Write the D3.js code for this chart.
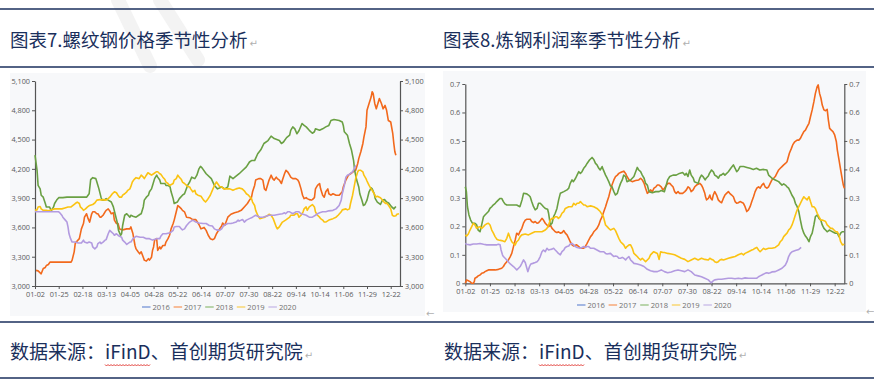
<!DOCTYPE html>
<html><head><meta charset="utf-8">
<script src="https://cdn.jsdelivr.net/npm/d3@7"></script>
<style>
html,body{margin:0;padding:0;background:#fff;}
svg{display:block;}
</style></head><body>
<svg id="c" width="874" height="386"></svg>
<script>
// ---------------- DATA ----------------
const years = ["2016","2017","2018","2019","2020"];
const skipDays = ["02-05","05-01","10-01","10-02","10-03","10-04","10-05","10-06","10-07"];
const monthDays = [31,28,31,30,31,30,31,31,30,31,30,31];
const tickLabels = ["01-02","01-25","02-18","03-13","04-05","04-28","05-22","06-14","07-07","07-30","08-22","09-14","10-14","11-06","11-29","12-22"];
const rebarTicks = [3000,3300,3600,3900,4200,4500,4800,5100];
const marginTicks = [0,0.1,0.2,0.3,0.4,0.5,0.6,0.7];

// series values as [category index, value]
const rebar2016 = [];
const rebar2017 = [[1,3160],[3,3155],[5,3135],[6,3125],[8,3180],[10,3190],[11,3210],[13,3220],[14.5,3245],[35,3245],[36,3265],[38,3350],[39,3435],[40,3450],[43,3485],[45,3585],[47,3640],[48,3705],[50,3740],[51.5,3690],[53,3655],[55,3740],[56,3760],[58,3760],[60,3740],[61,3740],[63,3705],[64,3705],[66,3725],[68,3760],[69,3775],[71,3790],[73,3760],[74,3740],[76,3750],[77,3675],[79,3640],[80.5,3640],[82,3585],[85,3575],[89,3585],[92,3585],[93,3605],[95,3535],[97,3415],[98,3380],[100,3350],[101.5,3330],[103,3350],[105,3295],[106,3265],[108,3255],[110,3280],[111,3265],[113,3295],[114,3365],[115,3400],[116,3470],[118,3485],[119,3365],[121,3400],[122,3380],[124,3415],[126,3415],[127,3450],[129,3485],[130.5,3520],[132,3585],[134,3640],[135,3675],[137,3760],[138.5,3825],[140,3810],[142,3790],[143,3775],[145,3760],[147,3705],[150,3700],[153,3680],[156,3680],[159,3630],[161,3585],[164,3600],[166,3570],[168,3520],[170,3485],[172.5,3475],[174,3485],[176,3535],[178,3570],[179,3585],[181,3615],[182,3645],[184,3620],[187,3705],[190,3735],[193.5,3750],[197,3760],[200,3775],[203,3810],[206,3845],[208,3880],[210,3910],[211,3965],[213,4030],[214,4085],[217,4100],[219,4100],[221,4085],[222.5,3995],[224,3980],[226,4050],[227,4085],[229,4135],[230.5,4100],[232,4085],[234,4115],[235,4100],[237,4085],[239,4050],[240,4085],[242,4150],[243.4,4185],[245,4170],[247,4135],[248,4115],[250,4100],[253,4100],[255,4085],[256,4065],[258,3995],[259.5,3930],[261,3895],[263,3905],[264,3895],[266,3885],[268,3880],[269,3885],[271,3905],[272,3995],[274,4030],[276,4050],[277,3995],[279,3930],[280.5,3910],[282,3965],[284,3995],[285,3945],[287,3930],[289,3945],[292,3930],[295,3930],[298,3965],[299,4015],[301.5,4085],[304,4135],[306,4150],[308.5,4170],[311,4185],[313,4255],[314,4305],[316,4375],[318,4460],[319,4525],[321,4630],[322,4800],[324,4870],[326,4935],[327,4990],[328,4970],[329.5,4870],[331,4815],[333,4885],[334,4920],[336,4870],[337.6,4815],[339.5,4850],[341,4800],[342.7,4695],[345,4680],[347,4560],[348,4460],[349,4375],[350,4340]];
const rebar2018 = [[0,4340],[2,4185],[3,4030],[5,3995],[6,3930],[8,3910],[10,3845],[11,3810],[14,3810],[15,3790],[16,3775],[18,3810],[19,3845],[21,3880],[23,3905],[27,3905],[31,3910],[40,3910],[50,3910],[52.5,3945],[54,4090],[56,4110],[59,4100],[60,4065],[62,3995],[64,3910],[65,3880],[67,3880],[69,3895],[71,3880],[74,3860],[76,3810],[78,3725],[80,3640],[81,3570],[83,3520],[84,3535],[85,3620],[87,3725],[89,3740],[92,3705],[93,3725],[95,3715],[98,3705],[102,3735],[103,3740],[105,3810],[106,3880],[108,3910],[110,3930],[111,3965],[113,3995],[114,4030],[116,4100],[118,4135],[119,4115],[121,4085],[122,4050],[126,4050],[127,4030],[129,4030],[131,4015],[132,3965],[134,3895],[135,3845],[138,3860],[140,3895],[143,3930],[145,3945],[148,4030],[150,4065],[152,4115],[155,4100],[157,4135],[159,4200],[160.5,4225],[162,4210],[166,4150],[171,4100],[174,4030],[177,3995],[181,4015],[184,3995],[187,4015],[189,4125],[192,4100],[195,4125],[198,4150],[200,4170],[205,4220],[208,4270],[210,4285],[213,4285],[216,4355],[219,4395],[222,4460],[226,4490],[229,4535],[232,4510],[237,4490],[239,4460],[241,4475],[244,4520],[247,4545],[248,4595],[250,4630],[252,4610],[254,4560],[256,4590],[259,4665],[261,4645],[263,4630],[266,4595],[269,4565],[271,4580],[272,4610],[276,4595],[279,4610],[282,4630],[285,4645],[287,4695],[290,4705],[295,4695],[298,4680],[299,4645],[300,4580],[303,4545],[305,4460],[307,4390],[309,4285],[310,4185],[312,4085],[314,4015],[315,3945],[317,3880],[318.5,3825],[320,3835],[322,3880],[324,3965],[326,4005],[327,3995],[329,3945],[330,3895],[332,3860],[335,3835],[337,3880],[339,3885],[341,3860],[343,3850],[346,3810],[348,3790],[350,3815]];
const rebar2019 = [[0,3775],[2,3780],[3,3810],[5,3815],[6,3790],[8,3775],[11,3775],[13,3770],[16,3780],[19,3790],[26,3790],[29,3800],[32,3810],[35,3810],[39,3845],[41,3860],[43,3845],[44,3810],[46,3790],[47,3775],[49,3790],[51,3810],[53,3825],[56,3835],[58,3850],[60,3880],[63,3885],[64,3880],[66,3885],[69,3880],[71,3895],[72.5,3910],[75,3945],[77,3965],[79,3955],[80.5,3930],[82,3910],[84,3910],[85,3930],[87,3945],[89,3965],[90,3980],[92,3995],[93,4020],[94.4,4065],[96,4090],[98,4110],[101,4100],[103,4135],[105,4115],[106,4100],[108,4135],[109.5,4160],[111,4150],[113,4135],[115,4150],[117.6,4170],[119,4170],[121,4150],[122,4145],[124,4115],[126,4090],[127,4065],[129,4050],[130.5,4030],[134,4050],[135,4085],[137,4100],[138.5,4135],[140,4115],[142,4090],[143,4065],[145,4050],[147,4030],[148,4020],[150,4015],[151,3995],[153,3965],[155,3980],[156,3945],[158,3930],[161,3920],[163.5,3880],[165.4,3860],[167,3880],[170,3930],[172,3980],[174,4030],[176,4065],[177,4050],[179,4020],[181,4015],[183,3995],[189,3995],[192,3980],[195,3995],[198,4005],[201,3995],[203,3975],[205,3945],[207,3930],[210,3895],[211,3860],[213,3825],[214,3775],[216,3725],[218,3690],[221,3700],[223,3705],[226,3725],[227,3735],[229,3725],[231,3690],[234,3605],[235,3585],[237,3605],[239,3640],[240,3655],[243,3675],[245,3690],[247,3705],[248,3725],[251,3725],[253,3740],[254.7,3740],[256,3705],[258,3725],[260,3760],[261,3790],[263,3810],[264,3775],[266,3810],[268,3825],[269,3835],[271,3810],[272,3760],[274,3725],[276,3705],[277,3690],[279,3675],[280.5,3655],[282,3655],[285,3675],[289,3690],[292,3705],[294,3725],[297,3760],[298,3780],[301.5,3790],[303,3780],[305,3790],[306,3845],[308,3930],[309.5,4015],[311,4100],[313,4170],[314,4185],[316,4185],[318,4170],[319,4135],[321,4100],[322,4075],[324,4030],[326,3995],[327,3980],[329,3945],[330.5,3910],[332,3920],[334,3910],[335,3905],[337,3880],[338.5,3860],[340,3845],[341,3850],[343,3825],[345,3790],[346.6,3725],[348,3715],[350,3720],[351,3735],[353,3740]];
const rebar2020 = [[0,3760],[23,3760],[24,3750],[26,3725],[27,3705],[29,3680],[31,3655],[32,3605],[33,3535],[34.5,3485],[36,3450],[39,3450],[42,3440],[45,3440],[47,3470],[48,3450],[50.6,3440],[52.5,3450],[55,3440],[56,3400],[58,3380],[60,3400],[61,3435],[63,3450],[64,3435],[66,3450],[68,3470],[69,3475],[71,3535],[72.5,3570],[74,3555],[76,3535],[77,3520],[79,3535],[80.5,3520],[82,3510],[84,3500],[85,3470],[87,3450],[89,3425],[90,3435],[92,3450],[93,3450],[95,3485],[97,3500],[98,3510],[102,3500],[105,3500],[108,3485],[111,3485],[114,3470],[118,3485],[121,3485],[122,3510],[124,3535],[127,3535],[131,3545],[134,3570],[135,3605],[137,3610],[140,3610],[142,3585],[143,3575],[145,3585],[147,3620],[150,3655],[153,3675],[156,3655],[159,3645],[163,3640],[166,3640],[169,3620],[172,3615],[174,3585],[176,3575],[179,3570],[181,3585],[183,3620],[187,3640],[190,3640],[192,3645],[195,3655],[197,3675],[198,3665],[200,3675],[201.5,3680],[203,3655],[205,3675],[208,3690],[211,3705],[214,3725],[218,3705],[221,3705],[224,3715],[227,3725],[232,3725],[237,3735],[240,3740],[242,3750],[243,3740],[245,3760],[247,3760],[250,3740],[253,3760],[256,3760],[258,3740],[260,3735],[263,3725],[266,3705],[269,3705],[272,3725],[274,3740],[276,3750],[279,3760],[282,3760],[285,3770],[289,3775],[292,3790],[295,3825],[297,3880],[298,3945],[300,4030],[301.5,4115],[303,4135],[305,4145],[308,4170],[309.5,4200],[311,4235]];

const margin2016 = [];
const margin2017 = [[0,0],[1.25,0.012],[2.8,0.009],[4.4,0.006],[6,0],[7.5,0],[8.4,0.006],[9,0.018],[10.6,0.021],[12,0.026],[13.75,0.029],[15.3,0.035],[17,0.037],[18.4,0.041],[20,0.044],[21.6,0.047],[28,0.047],[31,0.049],[34,0.053],[35.6,0.059],[37,0.068],[38.75,0.076],[40.3,0.082],[42,0.094],[43.4,0.105],[45,0.129],[46.6,0.152],[48,0.176],[49.7,0.170],[51,0.181],[52.8,0.193],[54.4,0.211],[56,0.222],[57.5,0.225],[60.6,0.225],[62,0.217],[63.75,0.213],[65.3,0.217],[67,0.211],[68.4,0.213],[70,0.220],[71.6,0.228],[73,0.222],[74.7,0.211],[76.25,0.205],[77.8,0.199],[79.4,0.205],[81,0.193],[82.5,0.187],[84,0.181],[85.6,0.178],[87,0.181],[88.75,0.176],[90.3,0.178],[92,0.185],[93.4,0.176],[95,0.170],[96.6,0.158],[98,0.146],[99.7,0.135],[101.25,0.131],[104,0.135],[106,0.129],[107.5,0.123],[110.6,0.123],[112,0.129],[113.75,0.140],[115.3,0.152],[117,0.164],[118.4,0.170],[120,0.181],[121.6,0.187],[123,0.193],[124.7,0.205],[126.25,0.222],[127.8,0.234],[129.4,0.252],[131,0.269],[132.5,0.287],[134,0.304],[135.6,0.328],[137,0.345],[138.75,0.363],[140.3,0.375],[142,0.380],[143.4,0.386],[145,0.389],[146.6,0.392],[148,0.394],[149.7,0.386],[151,0.375],[153,0.363],[155.9,0.357],[159,0.361],[162,0.363],[163.75,0.369],[165.3,0.363],[167,0.351],[168.4,0.334],[170,0.316],[171.6,0.322],[173,0.328],[174.7,0.322],[176.25,0.334],[178,0.339],[179.4,0.345],[181,0.345],[183,0.339],[184.6,0.328],[186,0.334],[188,0.345],[189.3,0.351],[191,0.351],[192.4,0.345],[194,0.339],[195.5,0.322],[197,0.316],[198.7,0.322],[200,0.316],[203,0.316],[205,0.322],[206.5,0.328],[208,0.339],[209.6,0.334],[211,0.322],[212.8,0.328],[214.3,0.339],[216,0.345],[219,0.351],[220.6,0.345],[222,0.334],[223.7,0.316],[224.4,0.304],[225.3,0.293],[227,0.298],[228.4,0.310],[229.4,0.298],[230.6,0.293],[231.6,0.310],[233,0.322],[234.7,0.310],[236.3,0.293],[237.8,0.287],[239.4,0.283],[241,0.298],[242.5,0.310],[244,0.316],[245.7,0.322],[247,0.316],[248.8,0.310],[250.4,0.304],[252,0.287],[253.5,0.281],[255,0.283],[256.6,0.287],[259.8,0.281],[261.3,0.269],[262.9,0.252],[264.5,0.258],[266,0.269],[267.6,0.287],[269.2,0.304],[270.7,0.322],[272.3,0.334],[273.9,0.339],[275.4,0.334],[277,0.345],[278.6,0.351],[280,0.339],[281.7,0.334],[283.3,0.339],[284.8,0.351],[286.4,0.363],[288,0.369],[289.5,0.375],[291,0.386],[292.7,0.398],[294.2,0.404],[295.8,0.410],[297.4,0.416],[299,0.421],[300.5,0.427],[301.4,0.439],[302.7,0.457],[304.6,0.474],[305.8,0.486],[307.7,0.497],[309.9,0.503],[311.5,0.503],[313,0.509],[314.6,0.521],[316.2,0.533],[317.7,0.538],[319.3,0.550],[321,0.562],[322.4,0.585],[324,0.609],[325.6,0.638],[327,0.667],[328.7,0.691],[329.6,0.697],[330.9,0.667],[332.2,0.650],[333.4,0.626],[335,0.609],[336.5,0.606],[338,0.611],[339.1,0.574],[340.3,0.544],[341.9,0.538],[343.4,0.533],[345,0.521],[346.6,0.497],[347.5,0.468],[349.1,0.433],[350.6,0.398],[352.2,0.363],[353.1,0.345],[354,0.334]];
const margin2018 = [[0,0.339],[1,0.322],[2,0.269],[3.4,0.240],[5,0.222],[6.6,0.211],[9,0.211],[10.6,0.205],[12,0.187],[13.75,0.181],[15.3,0.205],[17,0.234],[18.4,0.240],[20,0.246],[21.6,0.252],[23,0.263],[24.7,0.269],[26,0.275],[28,0.281],[29.4,0.287],[31,0.293],[32.5,0.298],[34,0.298],[35.6,0.287],[37,0.279],[38.75,0.275],[48,0.275],[51,0.269],[53,0.293],[54.4,0.316],[57.5,0.314],[59,0.310],[60.6,0.304],[62,0.287],[63.75,0.269],[65.3,0.258],[67,0.263],[68.4,0.281],[70,0.281],[71.6,0.275],[73,0.269],[74.7,0.263],[76.9,0.260],[77.8,0.246],[78.75,0.222],[79.4,0.205],[81,0.211],[82.5,0.234],[84,0.246],[85.6,0.263],[87.2,0.293],[88.75,0.316],[92,0.322],[95,0.328],[96.6,0.334],[98,0.351],[99.7,0.363],[101,0.357],[103,0.369],[104.4,0.380],[106,0.392],[107.5,0.386],[109,0.392],[110.6,0.404],[112,0.410],[113.75,0.421],[116,0.433],[118.4,0.442],[120,0.435],[121.6,0.421],[123,0.416],[124.7,0.404],[126,0.398],[127.8,0.410],[128.75,0.400],[131,0.380],[132.5,0.369],[134,0.357],[135.6,0.342],[137,0.339],[138.75,0.322],[140.3,0.310],[142,0.316],[143.4,0.334],[145,0.351],[146.6,0.363],[148,0.380],[149.7,0.375],[151,0.357],[154.4,0.363],[157.5,0.375],[160.6,0.407],[162,0.398],[163.75,0.392],[165.3,0.380],[167,0.369],[168.4,0.351],[170,0.345],[171.6,0.322],[174.7,0.318],[177.8,0.322],[181,0.322],[183,0.326],[186,0.322],[189,0.363],[191,0.375],[194,0.380],[197,0.380],[200,0.386],[203,0.389],[205,0.380],[206.5,0.386],[208,0.375],[209.6,0.398],[211,0.380],[213,0.369],[214,0.357],[217.5,0.351],[219,0.369],[220.6,0.380],[222,0.375],[224,0.363],[225,0.369],[227,0.377],[228,0.386],[230,0.398],[231.6,0.392],[233,0.380],[235,0.375],[236.3,0.369],[238,0.380],[239,0.380],[241,0.386],[242.5,0.380],[245.7,0.392],[248,0.404],[250.4,0.416],[252,0.404],[253.5,0.392],[255,0.398],[256.6,0.410],[260,0.410],[263,0.407],[266,0.404],[269,0.400],[272,0.404],[275,0.398],[278.6,0.400],[281.7,0.398],[283.3,0.380],[284.8,0.375],[286.4,0.369],[289.5,0.363],[292.7,0.357],[294.2,0.351],[295.8,0.345],[297.4,0.349],[299,0.345],[300.5,0.339],[302,0.334],[303.6,0.322],[305,0.310],[307,0.298],[308.3,0.281],[310,0.269],[311.5,0.252],[313,0.222],[314.6,0.193],[316.2,0.176],[317.7,0.166],[319.3,0.158],[321,0.146],[322.4,0.164],[324,0.176],[325.6,0.205],[327,0.234],[328.7,0.240],[330.3,0.228],[332,0.222],[333.4,0.205],[335,0.193],[336.5,0.187],[338,0.181],[340,0.187],[341,0.185],[343,0.181],[344.4,0.178],[346,0.176],[347.5,0.176],[349,0.164],[350.6,0.176],[352,0.181],[354,0.181]];
const margin2019 = [[0,0.170],[1.25,0.166],[2.8,0.173],[4.4,0.187],[6,0.199],[7.5,0.211],[9,0.205],[10.6,0.193],[12,0.197],[13.75,0.199],[15.3,0.193],[17,0.199],[18.4,0.205],[20,0.209],[21.6,0.211],[23.1,0.205],[24.7,0.187],[26.25,0.176],[27.8,0.164],[29.4,0.155],[31,0.152],[34,0.150],[37,0.146],[38.75,0.158],[40.3,0.176],[42,0.158],[43.4,0.146],[45,0.140],[46.6,0.135],[48,0.146],[49.7,0.152],[51.25,0.164],[52.8,0.170],[56,0.173],[59,0.170],[62,0.176],[65,0.181],[71.6,0.181],[74.7,0.187],[76.25,0.193],[77.8,0.205],[79.4,0.222],[81,0.228],[82.5,0.228],[84,0.234],[85.6,0.234],[87,0.228],[88.75,0.234],[90.3,0.246],[92,0.252],[93.4,0.263],[96.6,0.269],[99.7,0.269],[101.25,0.281],[103,0.275],[104.4,0.281],[106,0.281],[107.5,0.287],[109,0.281],[110.6,0.275],[112,0.275],[113.75,0.269],[117,0.272],[120,0.269],[123,0.263],[126,0.252],[129,0.234],[131,0.205],[132.5,0.199],[134,0.193],[135.6,0.187],[138.75,0.193],[140.3,0.185],[142,0.170],[143.4,0.158],[145,0.146],[146.6,0.140],[148,0.135],[149.7,0.123],[151,0.129],[153,0.135],[154.4,0.135],[156,0.123],[157.5,0.105],[159,0.100],[160.6,0.094],[162,0.088],[163.75,0.082],[165.3,0.088],[166.9,0.082],[168.4,0.076],[170,0.082],[171.6,0.088],[173,0.100],[176,0.111],[179.4,0.105],[181,0.084],[182.5,0.111],[184.6,0.108],[186,0.108],[189,0.105],[192.4,0.103],[195.5,0.100],[198.7,0.094],[201.8,0.088],[205,0.084],[208,0.076],[211,0.082],[214.3,0.088],[217.5,0.082],[220.6,0.088],[223.7,0.084],[227,0.082],[228.4,0.088],[230,0.084],[231.6,0.082],[233,0.076],[234.7,0.073],[236.3,0.076],[237.8,0.082],[239.4,0.084],[241,0.082],[242.5,0.084],[245.7,0.088],[248.8,0.091],[252,0.094],[255,0.100],[258,0.105],[259.8,0.100],[261.3,0.105],[264.5,0.111],[267.6,0.117],[269,0.119],[270.7,0.123],[272.3,0.126],[273.9,0.117],[275.4,0.111],[277,0.117],[278.6,0.123],[280.1,0.119],[283.3,0.123],[286.4,0.123],[289.5,0.126],[292.7,0.135],[294.2,0.146],[295.8,0.152],[297.4,0.164],[298.9,0.170],[300.5,0.176],[302,0.187],[303.6,0.193],[305.2,0.205],[306.8,0.222],[308.3,0.240],[310,0.258],[311.5,0.269],[313,0.281],[314.6,0.293],[316.2,0.304],[317.7,0.298],[319.3,0.293],[321,0.304],[322.4,0.287],[324,0.269],[325.6,0.269],[327,0.263],[328.7,0.246],[330.3,0.234],[332,0.222],[333.4,0.222],[335,0.220],[336.5,0.217],[338,0.205],[339.7,0.199],[341.2,0.193],[342.8,0.193],[344.4,0.187],[346,0.181],[347.5,0.181],[349,0.170],[350.6,0.146],[352.2,0.135],[354,0.137]];
const margin2020 = [[0,0.140],[1.25,0.137],[4.4,0.135],[7.5,0.138],[10.6,0.138],[13.75,0.140],[17,0.137],[20,0.135],[29.4,0.135],[31,0.137],[32.5,0.135],[33.4,0.117],[34.7,0.100],[35.6,0.094],[37.2,0.088],[38.75,0.082],[42,0.068],[45,0.059],[46.6,0.053],[48.1,0.047],[49.7,0.053],[51.25,0.059],[52.8,0.070],[54.4,0.082],[56,0.073],[57.5,0.053],[58.4,0.041],[60,0.059],[61.25,0.068],[63,0.070],[65.3,0.073],[67,0.076],[68.4,0.082],[70,0.094],[71.6,0.111],[73,0.117],[74.7,0.111],[76.25,0.123],[77.8,0.117],[79.4,0.119],[81,0.120],[82.5,0.123],[84,0.117],[85.6,0.111],[87,0.105],[88.75,0.100],[90.3,0.111],[92,0.117],[93.4,0.126],[95,0.129],[96.6,0.131],[98,0.138],[99.7,0.140],[101.25,0.135],[102.8,0.129],[104.4,0.126],[107.5,0.123],[109,0.126],[110.6,0.129],[112,0.126],[113.75,0.129],[115.3,0.129],[116.9,0.123],[120,0.123],[123,0.117],[126,0.111],[129.4,0.111],[131,0.105],[132.5,0.103],[135.6,0.105],[137,0.100],[138.75,0.094],[140.3,0.096],[142,0.094],[143.4,0.088],[145,0.088],[146.6,0.091],[148,0.088],[149.7,0.082],[151,0.088],[152.8,0.094],[154.4,0.082],[156,0.076],[157.5,0.070],[160.6,0.068],[163.75,0.064],[166.9,0.059],[170,0.049],[173,0.044],[176.25,0.041],[179.4,0.041],[183,0.047],[186,0.041],[189,0.037],[192.4,0.040],[195.5,0.044],[198.7,0.047],[201.8,0.044],[205,0.041],[208,0.047],[211,0.041],[214.3,0.029],[217.5,0.026],[220.6,0.023],[223.7,0.018],[227,0.012],[228.4,0.006],[230,0.002],[231.6,0.009],[233,0.012],[236.3,0.014],[239.4,0.014],[242.5,0.016],[245.7,0.018],[248.8,0.018],[251.9,0.016],[255,0.018],[258.2,0.016],[261.3,0.019],[264.5,0.018],[272.3,0.018],[273.9,0.023],[275.4,0.026],[277,0.029],[280,0.035],[281.7,0.037],[283.3,0.035],[284.8,0.037],[286.4,0.040],[289.5,0.041],[292.7,0.047],[295.8,0.053],[298.9,0.064],[300.5,0.076],[302,0.094],[303.6,0.105],[305.2,0.111],[308.3,0.115],[311.5,0.119],[313.7,0.126]];

const titles = ["图表7.螺纹钢价格季节性分析","图表8.炼钢利润率季节性分析"];
const sourceText = ["数据来源：", "iFinD", "、首创期货研究院"];

// ---------------- BUILD CATEGORIES ----------------
const categories = [];
monthDays.forEach((n, m) => {
  for (let d = 1; d <= n; d++) {
    const s = String(m + 1).padStart(2, "0") + "-" + String(d).padStart(2, "0");
    if (s === "01-01" || skipDays.includes(s)) continue;
    categories.push(s);
  }
});

const lineColors = {"2016":"#5b7fd1","2017":"#f2691c","2018":"#6aa043","2019":"#fbc312","2020":"#b39be0"};
const legendColors = {"2016":"#7f9bd8","2017":"#f6a26e","2018":"#9dc488","2019":"#f8d468","2020":"#cbbde9"};
const navy = "#1a2f5c";

const svg = d3.select("#c");

// faint watermark strokes (background decoration)
[[118, 0, 150, 66], [160, 0, 198, 60]].forEach(([a, b, c, d]) => {
  svg.append("line").attr("x1", a).attr("y1", b).attr("x2", c).attr("y2", d)
    .attr("stroke", "#f3f3f3").attr("stroke-width", 14).attr("stroke-linecap", "round");
});

// rules
[9, 67, 322, 378].forEach(y => {
  svg.append("line").attr("x1", 0).attr("x2", 874).attr("y1", y).attr("y2", y)
    .attr("stroke", navy).attr("stroke-width", 1.6);
});

const cjk = "'Noto Sans CJK SC','Noto Sans',sans-serif";
const mark = (x, y) => svg.append("text").attr("x", x).attr("y", y).attr("font-family", "DejaVu Sans")
  .attr("font-size", 10).attr("fill", "#b0b0b0").text("↵");

// titles (natural width, mark placed after measured end)
[10, 443].forEach((x, i) => {
  const t = svg.append("text").attr("x", x).attr("y", 47).attr("font-family", cjk).attr("font-size", 18.5)
    .attr("fill", navy).text(titles[i]);
  const end = x + t.node().getComputedTextLength();
  mark(end + 2, 47);
});

// sources
[10, 444].forEach(x => {
  const t = svg.append("text").attr("x", x).attr("y", 359).attr("font-family", cjk).attr("font-size", 19)
    .attr("fill", navy);
  t.append("tspan").text(sourceText[0]);
  const ifind = t.append("tspan").text(sourceText[1]);
  t.append("tspan").text(sourceText[2]);
  const end = x + t.node().getComputedTextLength();
  mark(end + 2, 359);
  // red wavy spell-check underline under iFinD
  const s = x + t.node().getSubStringLength(0, sourceText[0].length);
  const w = ifind.node().getComputedTextLength();
  let p = `M${s},364.5`;
  const n = Math.round(w / 1.5);
  for (let k = 0; k < n; k++) p += ` l1.5,${k % 2 ? -1.5 : 1.5}`;
  svg.append("path").attr("d", p).attr("fill", "none").attr("stroke", "#e0302a").attr("stroke-width", 0.9);
});

function drawChart(cfg) {
  const g = svg.append("g");
  g.append("rect").attr("x", cfg.panel[0]).attr("y", cfg.panel[1]).attr("width", cfg.panel[2]).attr("height", cfg.panel[3])
    .attr("fill", "#f7f8fa");
  const x = d3.scaleLinear().domain([0, categories.length - 1]).range([cfg.x0, cfg.x1]);
  const y = d3.scaleLinear().domain([cfg.ticks[0], cfg.ticks[cfg.ticks.length - 1]]).range([cfg.yb, cfg.yt]);
  const font = "'Open Sans','Noto Sans',sans-serif";
  const styleAxis = sel => {
    sel.selectAll(".domain").attr("stroke", "#555").attr("stroke-width", 1.2);
    sel.selectAll(".tick line").attr("stroke", "#555");
    sel.selectAll(".tick text").attr("fill", "#5a5a5a").attr("font-family", font).attr("font-size", 7.3);
  };
  const tickIdx = tickLabels.map(l => categories.indexOf(l));
  g.append("g").attr("transform", `translate(0,${cfg.yb})`)
    .call(d3.axisBottom(x).tickValues(tickIdx).tickFormat(i => categories[i]).tickSize(3).tickSizeOuter(0).tickPadding(3))
    .call(styleAxis);
  g.append("g").attr("transform", `translate(${cfg.x0},0)`)
    .call(d3.axisLeft(y).tickValues(cfg.ticks).tickFormat(cfg.fmt).tickSize(3).tickSizeOuter(0).tickPadding(2))
    .call(styleAxis);
  g.append("g").attr("transform", `translate(${cfg.x1},0)`)
    .call(d3.axisRight(y).tickValues(cfg.ticks).tickFormat(cfg.fmt).tickSize(3).tickSizeOuter(0).tickPadding(2))
    .call(styleAxis);

  const line = d3.line().x(d => x(d[0])).y(d => y(d[1]));
  years.forEach((yr, i) => {
    const data = cfg.series[i];
    if (!data.length) return;
    g.append("path").datum(data).attr("d", line).attr("fill", "none")
      .attr("stroke", lineColors[yr]).attr("stroke-width", 1.6).attr("stroke-linejoin", "round");
  });

  // legend
  const lg = g.append("g");
  years.forEach((yr, i) => {
    const lx = cfg.legendX + i * 31.6;
    lg.append("line").attr("x1", lx).attr("x2", lx + 8.5).attr("y1", cfg.legendY).attr("y2", cfg.legendY)
      .attr("stroke", legendColors[yr]).attr("stroke-width", 1.4);
    lg.append("text").attr("x", lx + 10.5).attr("y", cfg.legendY + 2.7).attr("font-family", font)
      .attr("font-size", 7.6).attr("fill", "#707070").text(yr);
  });
  // paragraph mark
  svg.append("text").attr("x", cfg.mark[0]).attr("y", cfg.mark[1]).attr("font-family", "DejaVu Sans")
    .attr("font-size", 10).attr("fill", "#b0b0b0").text("←");
}

drawChart({
  panel: [10, 73, 415, 243], x0: 35, x1: 400, yt: 81, yb: 286,
  ticks: rebarTicks, fmt: d3.format(","),
  series: [rebar2016, rebar2017, rebar2018, rebar2019, rebar2020],
  legendX: 142, legendY: 307, mark: [426, 317]
});
drawChart({
  panel: [443, 71, 423, 241], x0: 465.3, x1: 844.3, yt: 84, yb: 283.3,
  ticks: marginTicks, fmt: d => d === 0 ? "0" : d3.format(".1f")(d),
  series: [margin2016, margin2017, margin2018, margin2019, margin2020],
  legendX: 577, legendY: 305, mark: [866, 315]
});
</script>
</body></html>
